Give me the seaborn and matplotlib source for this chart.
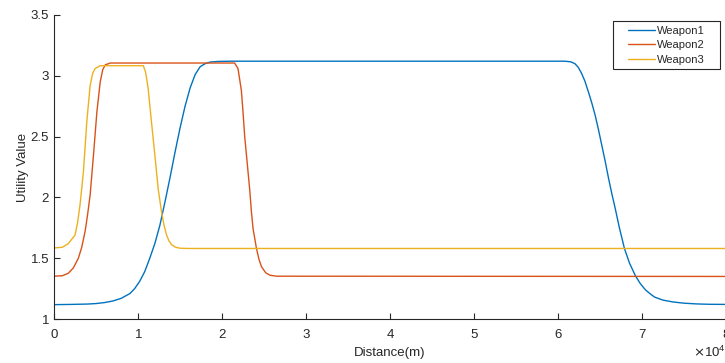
import numpy as np
import pandas as pd
import matplotlib
matplotlib.use("Agg")
import matplotlib.pyplot as plt
import seaborn as sns
from matplotlib.ticker import ScalarFormatter
from matplotlib.legend_handler import HandlerLine2D
from matplotlib.lines import Line2D

# Distances in units of 1e4 m
w1_x = [0, 0.2, 0.4, 0.5, 0.6, 0.7, 0.8, 0.905, 0.96, 1.02, 1.08, 1.14, 1.2, 1.26, 1.32, 1.38, 1.44, 1.5, 1.56, 1.62, 1.68, 1.74, 1.8, 1.86, 1.95, 2.1,
        6.08, 6.15, 6.2, 6.24, 6.28, 6.32, 6.36, 6.4, 6.44, 6.48, 6.52, 6.56, 6.6, 6.64, 6.68, 6.73, 6.79, 6.85, 6.92, 6.98, 7.04, 7.1, 7.15, 7.25, 7.37, 7.5, 7.65, 7.8, 8.0]
w1_y = [1.118, 1.12, 1.123, 1.127, 1.135, 1.148, 1.17, 1.21, 1.25, 1.31, 1.39, 1.50, 1.62, 1.77, 1.96, 2.16, 2.37, 2.57, 2.75, 2.90, 3.01, 3.075, 3.10, 3.113, 3.118, 3.12,
        3.12, 3.115, 3.10, 3.07, 3.02, 2.955, 2.87, 2.78, 2.68, 2.56, 2.43, 2.30, 2.16, 2.03, 1.91, 1.75, 1.58, 1.46, 1.356, 1.29, 1.24, 1.205, 1.18, 1.155, 1.14, 1.13, 1.124, 1.121, 1.12]

w2_x = [0, 0.1, 0.17, 0.23, 0.29, 0.33, 0.37, 0.4, 0.43, 0.47, 0.51, 0.55, 0.58, 0.61, 0.67,
        2.15, 2.19, 2.23, 2.25, 2.27, 2.3, 2.33, 2.35, 2.37, 2.41, 2.44, 2.47, 2.52, 2.57, 2.65, 8.0]
w2_y = [1.352, 1.356, 1.376, 1.42, 1.50, 1.59, 1.72, 1.86, 2.02, 2.35, 2.70, 2.95, 3.05, 3.09, 3.105,
        3.105, 3.06, 2.88, 2.70, 2.50, 2.28, 2.06, 1.88, 1.74, 1.58, 1.49, 1.43, 1.38, 1.36, 1.352, 1.35]

w3_x = [0, 0.1, 0.17, 0.25, 0.28, 0.31, 0.35, 0.39, 0.43, 0.46, 0.49, 0.55,
        1.063, 1.09, 1.12, 1.16, 1.2, 1.24, 1.28, 1.31, 1.34, 1.37, 1.4, 1.45, 1.5, 1.6, 8.0]
w3_y = [1.584, 1.59, 1.62, 1.69, 1.79, 1.94, 2.21, 2.62, 2.92, 3.02, 3.06, 3.083,
        3.083, 3.03, 2.90, 2.62, 2.35, 2.07, 1.88, 1.77, 1.69, 1.64, 1.61, 1.59, 1.582, 1.58, 1.58]

names = ["Weapon1", "Weapon2", "Weapon3"]
colors = ["#0072BD", "#D95319", "#EDB120"]

frames = []
for n, xs, ys in zip(names, [w1_x, w2_x, w3_x], [w1_y, w2_y, w3_y]):
    frames.append(pd.DataFrame({"Distance": np.array(xs) * 1e4, "Utility": ys, "Weapon": n}))
df = pd.concat(frames, ignore_index=True)

sns.set_theme(style="ticks")
plt.rcParams['font.family'] = ['Liberation Sans', 'DejaVu Sans']

fig = plt.figure(figsize=(7.25, 3.63), dpi=100)
ax = fig.add_axes([0.0745, 0.1212, 0.927, 0.8375])

sns.lineplot(data=df, x="Distance", y="Utility", hue="Weapon", palette=colors,
             sort=False, estimator=None, linewidth=1.0, ax=ax)

ax.set_xlim(0, 80000)
ax.set_ylim(1, 3.5)
ax.set_xticks(np.arange(0, 80001, 10000))
ax.set_yticks(np.arange(1, 3.51, 0.5))
ax.set_yticklabels(["1", "1.5", "2", "2.5", "3", "3.5"])
fmt = ScalarFormatter(useMathText=True)
fmt.set_powerlimits((0, 0))
ax.xaxis.set_major_formatter(fmt)
ax.xaxis.get_offset_text().set_fontsize(9.5)
ax.xaxis.get_offset_text().set_color("#262626")

ax.set_xlabel("Distance(m)", fontsize=9.5, color="#262626", labelpad=4)
ax.set_ylabel("Utility Value", fontsize=9.5, color="#262626", labelpad=1)
ax.tick_params(direction="in", length=4, width=0.8, labelsize=9.5, colors="#262626")
ax.tick_params(axis="x", pad=6.5)
ax.tick_params(axis="y", pad=3.5)
for s in ["top", "right"]:
    ax.spines[s].set_visible(False)
for s in ["left", "bottom"]:
    ax.spines[s].set_color("#262626")
    ax.spines[s].set_linewidth(0.8)

handles, labels = ax.get_legend_handles_labels()
leg = ax.legend(handles, labels, loc="upper right", bbox_to_anchor=(0.832, 0.5, 0.159, 0.48),
                mode="expand", fontsize=8, frameon=True,
                fancybox=False, edgecolor="#262626", framealpha=1, handlelength=3.4,
                handletextpad=0.15, labelspacing=0.42, borderpad=0.4, borderaxespad=0,
                handler_map={Line2D: HandlerLine2D(xpad=0.95)})
leg.get_frame().set_linewidth(0.8)

fig.savefig("out.png", dpi=100)
